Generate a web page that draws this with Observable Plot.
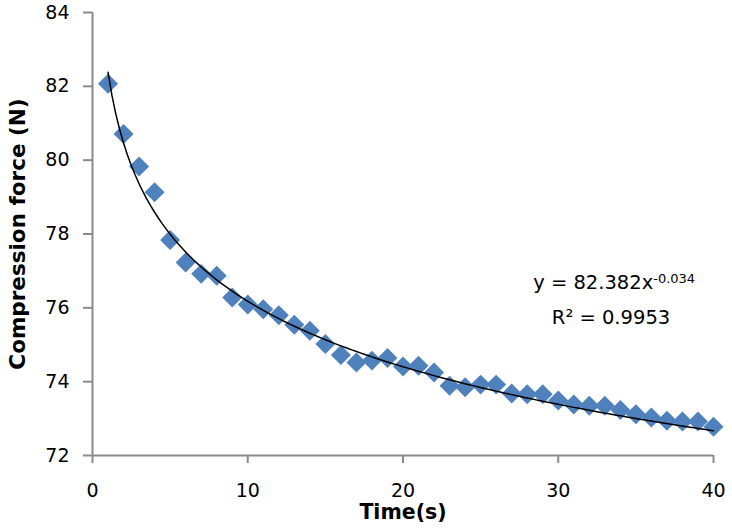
<!DOCTYPE html>
<html>
<head>
<meta charset="utf-8">
<script src="https://cdn.jsdelivr.net/npm/d3@7"></script>
<script src="https://cdn.jsdelivr.net/npm/@observablehq/plot@0.6"></script>
<style>
  html, body { margin: 0; padding: 0; background: #fff; }
  #chart svg { display: block; }
</style>
</head>
<body>
<div id="chart"></div>
<script>
// Time (s)
const time = [1,2,3,4,5,6,7,8,9,10,11,12,13,14,15,16,17,18,19,20,
              21,22,23,24,25,26,27,28,29,30,31,32,33,34,35,36,37,38,39,40];
// Compression force (N)
const force = [82.07,80.71,79.83,79.13,77.84,77.23,76.92,76.87,76.28,76.09,
               75.96,75.80,75.54,75.38,75.02,74.72,74.52,74.57,74.64,74.41,
               74.43,74.25,73.89,73.85,73.92,73.92,73.68,73.66,73.66,73.49,
               73.38,73.35,73.35,73.23,73.12,73.03,72.94,72.92,72.92,72.78];
// Power trendline shown on the chart: y = a * x^b
const trendA = 82.382;
const trendB = -0.034;
const rSquared = "0.9953";
const xTicks = [0, 10, 20, 30, 40];
const yTicks = [72, 74, 76, 78, 80, 82, 84];
const xLabel = "Time(s)";
const yLabel = "Compression force (N)";

const points = time.map((t, i) => ({t, f: force[i]}));
const trend = d3.range(1, 40.001, 0.25).map(t => ({t, f: trendA * Math.pow(t, trendB)}));
const eqLine = "y = " + trendA + "x";
const eq = [
  {t: 33.6, f: 76.68, label: eqLine, sup: String(trendB)},
  {t: 33.4, f: 75.73, label: "R\u00B2 = " + rSquared, sup: null}
];

const axisGray = "#8a8a8a";
const font = "DejaVu Sans";

const plot = Plot.plot({
  width: 732,
  height: 532,
  marginLeft: 92,
  marginRight: 19,
  marginTop: 12,
  marginBottom: 77,
  style: {fontFamily: font, background: "#fff", color: "#000"},
  x: {domain: [0, 40]},
  y: {domain: [72, 84]},
  marks: [
    Plot.ruleX([0], {stroke: axisGray, strokeWidth: 2}),
    Plot.ruleY([72], {stroke: axisGray, strokeWidth: 2}),
    Plot.axisX({ticks: xTicks, tickSize: 8, tickPadding: 20, stroke: axisGray, strokeWidth: 2,
                fill: "#000", fontSize: 19, label: null}),
    Plot.axisY({ticks: yTicks, tickSize: 9, tickPadding: 14, stroke: axisGray, strokeWidth: 2,
                fill: "#000", fontSize: 19, label: null}),
    Plot.text([yLabel], {frameAnchor: "left", dx: -74, rotate: -90, textAnchor: "middle",
                         fontSize: 21.5, fontWeight: "bold", fill: "#000"}),
    Plot.text([xLabel], {frameAnchor: "bottom", dy: 63, textAnchor: "middle",
                         fontSize: 20.5, fontWeight: "bold", fill: "#000"}),
    Plot.dot(points, {x: "t", y: "f", symbol: "diamond2", r: 9, fill: "#4F81BD", stroke: "none"}),
    Plot.line(trend, {x: "t", y: "f", stroke: "#000", strokeWidth: 1.5}),
    Plot.text(eq, {x: "t", y: "f", text: "label", fontSize: 19.5, fill: "#000",
                   textAnchor: "middle"})
  ]
});

// add superscript exponent to the equation text
d3.select(plot).selectAll("text").each(function() {
  const el = d3.select(this);
  const row = eq.find(r => r.sup && el.text() === r.label);
  if (row) {
    el.text(null);
    el.append("tspan").text(row.label);
    el.append("tspan").attr("font-size", 13).attr("dy", -6).text(row.sup);
  }
});

document.getElementById("chart").appendChild(plot);
</script>
</body>
</html>
